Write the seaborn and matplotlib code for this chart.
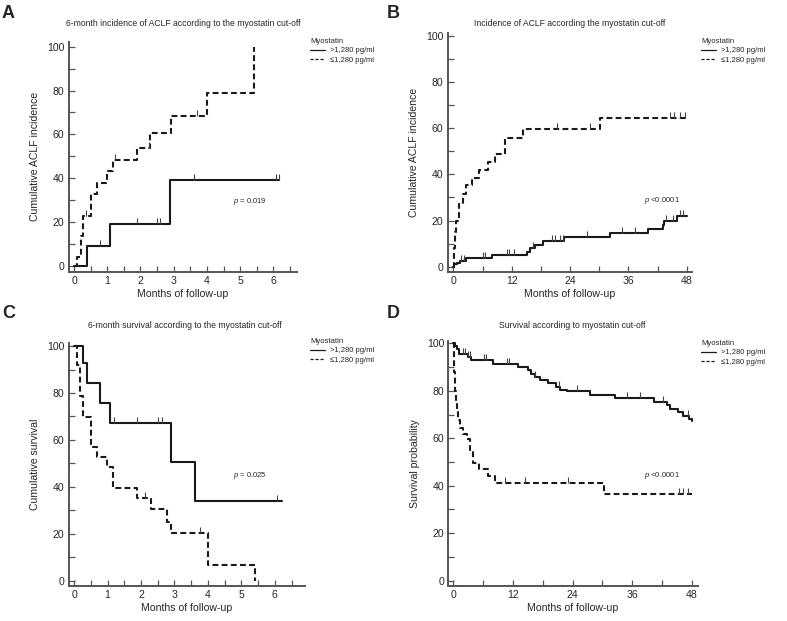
import numpy as np
import matplotlib
matplotlib.use("Agg")
import matplotlib.pyplot as plt
import seaborn as sns
from matplotlib.lines import Line2D
from matplotlib.ticker import MultipleLocator

sns.set_style("ticks")
plt.rcParams["font.family"] = ["Liberation Sans", "DejaVu Sans"]
plt.rcParams["mathtext.fontset"] = "custom"
plt.rcParams["mathtext.it"] = "Liberation Sans:italic"
plt.rcParams["mathtext.rm"] = "Liberation Sans"

# ---- data (months, %) ----
# A: 6-month ACLF incidence
a_hi_t = [0, 0.4, 1.08, 2.9, 6.18]
a_hi_v = [0, 9, 19.2, 39.3, 39.3]
a_hi_c = [0.78, 1.9, 2.49, 2.59, 3.6, 6.07, 6.18]
a_lo_t = [0, 0.1, 0.2, 0.28, 0.5, 0.68, 0.98, 1.18, 1.9, 2.29, 2.91, 4.0, 5.42]
a_lo_v = [0, 4, 13.5, 22.7, 32.6, 37.6, 43.4, 48.2, 53.9, 60.4, 68.3, 79, 100]
a_lo_c = [0.35, 1.22, 2.25, 3.7]

# B: long-term ACLF incidence
b_hi_t = [0, 0.2, 0.7, 1.4, 2.7, 8.0, 15.1, 15.8, 16.7, 18.5, 22.8, 32.2, 40.1,
          43.0, 43.4, 45.9, 48.0]
b_hi_v = [0, 1.2, 1.7, 2.6, 3.6, 5.1, 6.5, 7.9, 9.4, 11.2, 12.7, 14.6, 16.3,
          18.2, 20.0, 21.8, 21.8]
b_hi_c = [1.5, 2.1, 6.2, 6.6, 11.0, 11.4, 12.4, 16.4, 20.2, 20.9, 21.9, 22.5,
          27.4, 34.6, 37.4, 43.7, 45.2, 46.6, 47.3]
b_lo_t = [0, 0.15, 0.35, 0.6, 1.2, 1.9, 2.7, 3.8, 5.3, 7.1, 8.6, 10.6, 14.4,
          30.2, 48.0]
b_lo_v = [0, 8, 15, 20, 27, 31.5, 35.4, 38.5, 42, 45.5, 49, 56, 59.8, 64.3, 64.3]
b_lo_c = [21.3, 28.1, 44.6, 45.4, 46.5, 47.7]

# C: 6-month survival
c_hi_t = [0, 0.28, 0.4, 0.78, 1.07, 2.89, 3.61, 6.2]
c_hi_v = [100, 92.9, 84.4, 75.9, 67.3, 50.7, 33.9, 33.9]
c_hi_c = [1.2, 1.89, 2.52, 2.62, 6.05]
c_lo_t = [0, 0.08, 0.18, 0.28, 0.5, 0.7, 0.98, 1.17, 1.89, 2.29, 2.77, 2.89, 4.01, 5.4]
c_lo_v = [100, 91.9, 78.7, 69.9, 57.1, 52.8, 48.6, 39.3, 35.1, 30.4, 25.1, 20.2, 6.7, 0]
c_lo_c = [2.12, 3.76]

# D: long-term survival
d_hi_t = [0, 0.3, 0.7, 1.1, 2.9, 3.6, 8.0, 13.0, 15.0, 15.6, 16.4, 17.4, 19.1,
          20.7, 21.4, 22.9, 27.5, 32.5, 40.3, 43.0, 43.5, 45.2, 46.2, 47.5, 48.0]
d_hi_v = [100, 99, 97.8, 95.5, 94.2, 92.8, 91.4, 90.1, 88.7, 87.3, 85.9, 84.6,
          83.2, 81.8, 80.4, 79.8, 78.4, 77.0, 75.5, 73.9, 72.4, 70.9, 69.5, 68.0, 67.2]
d_hi_c = [1.9, 2.3, 3.0, 3.3, 6.2, 6.5, 10.9, 11.2, 16.5, 21.2, 24.8, 34.9,
          37.5, 42.2, 47.2]
d_lo_t = [0, 0.1, 0.2, 0.35, 0.5, 0.7, 1.0, 1.3, 2.0, 2.7, 3.3, 3.9, 5.1, 6.9,
          8.4, 30.3, 48.0]
d_lo_v = [100, 95, 88, 80, 75, 71, 67.5, 64.5, 62, 59.5, 55, 49.5, 47, 44,
          41.2, 36.6, 36.6]
d_lo_c = [10.4, 14.4, 23.1, 45.4, 46.1, 47.3]

legend_labels = [">1,280 pg/ml", "\u22641,280 pg/ml"]
LINE = "#1a1a1a"
DASH = (0, (2.8, 1.6))


def step_value(t, v, c):
    """Value of the step curve at censoring time c."""
    t = np.asarray(t)
    v = np.asarray(v)
    idx = np.searchsorted(t, c, side="right") - 1
    return v[np.clip(idx, 0, len(v) - 1)]


def draw_curve(ax, t, v, cens, ls):
    sns.lineplot(x=t, y=v, ax=ax, drawstyle="steps-post", color=LINE,
                 linestyle=ls, linewidth=1.5, estimator=None, sort=False)
    # censoring marks: short ticks sticking up from the curve
    ax.plot(cens, step_value(t, v, cens), linestyle="none", marker=2,
            markersize=4, markeredgewidth=0.8, color="#444444")


def style_axes(ax, xlim, ylim, xmaj, xmin, xlabel, ylabel):
    ax.set_xlim(*xlim)
    ax.set_ylim(*ylim)
    ax.xaxis.set_major_locator(MultipleLocator(xmaj))
    ax.xaxis.set_minor_locator(MultipleLocator(xmin))
    ax.yaxis.set_major_locator(MultipleLocator(20))
    ax.yaxis.set_minor_locator(MultipleLocator(10))
    ax.tick_params(which="both", direction="in", length=4, width=0.9,
                   color="#555555", labelsize=7.6, pad=3)
    for s in ("top", "right"):
        ax.spines[s].set_visible(False)
    for s in ("left", "bottom"):
        ax.spines[s].set_linewidth(1.4)
        ax.spines[s].set_color("#555555")
    ax.set_xlabel(xlabel, fontsize=7.6, labelpad=2)
    ax.set_ylabel(ylabel, fontsize=7.6, labelpad=5)


def add_legend(fig, ax, x, y):
    handles = [Line2D([], [], color=LINE, lw=0.9),
               Line2D([], [], color=LINE, lw=0.9, linestyle=(0, (2.5, 1.5)))]
    ax.legend(handles, legend_labels, title="Myostatin", loc="upper left",
              bbox_to_anchor=(x, y), bbox_transform=fig.transFigure,
              frameon=False, fontsize=5.5, title_fontsize=5.5,
              handlelength=2.0, handletextpad=0.6, labelspacing=0.25,
              borderpad=0, borderaxespad=0, alignment="left")


fig = plt.figure(figsize=(7.87, 6.21), dpi=100)

panels = [
    dict(rect=[0.0873, 0.5625, 0.2897, 0.3704], xlim=(-0.16, 6.7), ylim=(-2.7, 102.3),
         xmaj=1, xmin=0.5, ylabel="Cumulative ACLF incidence",
         title="6-month incidence of ACLF according to the myostatin cut-off",
         txy=(183, 23), lxy=(310, 38), p="$\\it{p}$ = 0.019", pxy=(5.3, 29.5),
         letter="A", lpos=(2, 5),
         data=[(a_hi_t, a_hi_v, a_hi_c, "-"), (a_lo_t, a_lo_v, a_lo_c, DASH)]),
    dict(rect=[0.5689, 0.5625, 0.3100, 0.3839], xlim=(-1.15, 49.0), ylim=(-2.17, 101.2),
         xmaj=12, xmin=6, ylabel="Cumulative ACLF incidence",
         title="Incidence of ACLF according the myostatin cut-off",
         txy=(570, 23), lxy=(701, 38), p="$\\it{p}$ <0.0001", pxy=(42.9, 28.9),
         letter="B", lpos=(387, 5),
         data=[(b_hi_t, b_hi_v, b_hi_c, "-"), (b_lo_t, b_lo_v, b_lo_c, DASH)]),
    dict(rect=[0.0873, 0.0564, 0.3003, 0.3908], xlim=(-0.16, 6.9), ylim=(-2.26, 101.2),
         xmaj=1, xmin=0.5, ylabel="Cumulative survival",
         title="6-month survival according to the myostatin cut-off",
         txy=(185, 325), lxy=(310, 338), p="$\\it{p}$ = 0.025", pxy=(5.25, 44.7),
         letter="C", lpos=(2, 305),
         data=[(c_hi_t, c_hi_v, c_hi_c, "-"), (c_lo_t, c_lo_v, c_lo_c, DASH)]),
    dict(rect=[0.5696, 0.0564, 0.3169, 0.3945], xlim=(-1.0, 49.15), ylim=(-2.23, 101.0),
         xmaj=12, xmin=6, ylabel="Survival probability",
         title="Survival according to myostatin cut-off",
         txy=(572, 325), lxy=(701, 340), p="$\\it{p}$ <0.0001", pxy=(41.9, 44.2),
         letter="D", lpos=(387, 305),
         data=[(d_hi_t, d_hi_v, d_hi_c, "-"), (d_lo_t, d_lo_v, d_lo_c, DASH)]),
]

W, H = 787.0, 621.0
for p in panels:
    ax = fig.add_axes(p["rect"])
    for t, v, c, ls in p["data"]:
        draw_curve(ax, t, v, c, ls)
    style_axes(ax, p["xlim"], p["ylim"], p["xmaj"], p["xmin"],
               "Months of follow-up", p["ylabel"])
    ax.text(p["pxy"][0], p["pxy"][1], p["p"], fontsize=5.5, ha="center", va="center")
    add_legend(fig, ax, p["lxy"][0] / W, 1 - p["lxy"][1] / H)
    fig.text(p["txy"][0] / W, 1 - p["txy"][1] / H, p["title"], fontsize=6.2,
             ha="center", va="center")
    fig.text(p["lpos"][0] / W, 1 - p["lpos"][1] / H, p["letter"], fontsize=13,
             fontweight="bold", ha="left", va="top")

fig.savefig("out.png", dpi=100)
